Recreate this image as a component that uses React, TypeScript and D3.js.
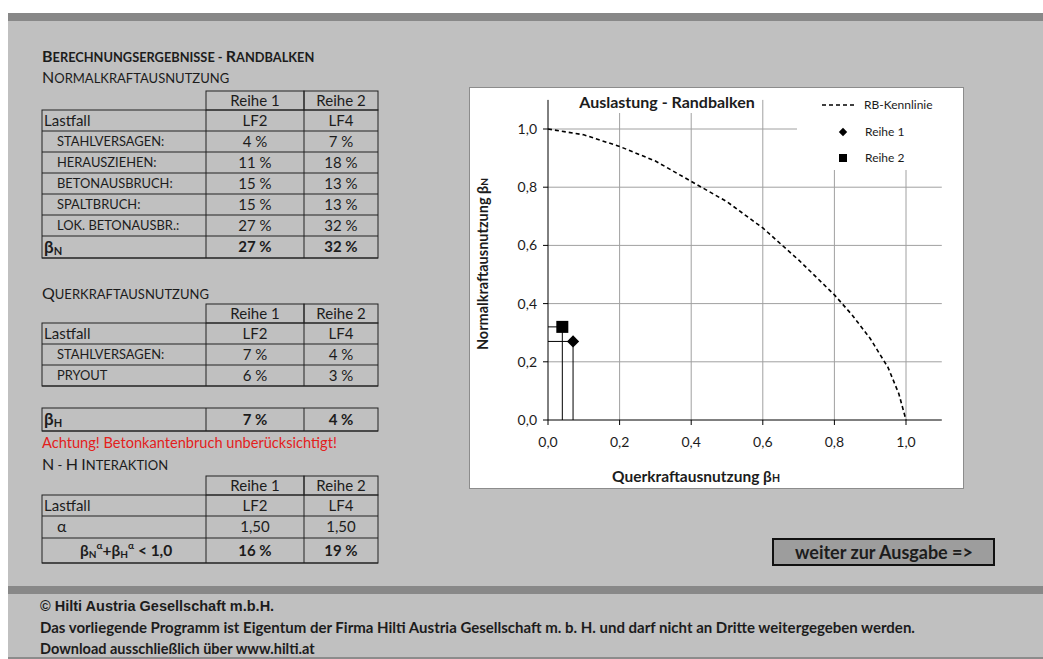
import React from 'react';
import * as d3 from 'd3';

// ---- data ----
const reihen = ['Reihe 1', 'Reihe 2'];
const lastfaelle = ['LF2', 'LF4'];

const nLabels = ['STAHLVERSAGEN:', 'HERAUSZIEHEN:', 'BETONAUSBRUCH:', 'SPALTBRUCH:', 'LOK. BETONAUSBR.:'];
const nReihe1 = [4, 11, 15, 15, 27];
const nReihe2 = [7, 18, 13, 13, 32];
const betaN = [27, 32];

const vLabels = ['STAHLVERSAGEN:', 'PRYOUT'];
const vReihe1 = [7, 6];
const vReihe2 = [4, 3];
const betaH = [7, 4];

const alpha = ['1,50', '1,50'];
const interaktion = [16, 19];

// chart
const kennlinieH = [0, 0.1, 0.2, 0.3, 0.4, 0.5, 0.6, 0.7, 0.8, 0.85, 0.9, 0.95, 0.98, 1.0];
const kennlinieN = [1.0, 0.98, 0.94, 0.89, 0.82, 0.75, 0.66, 0.55, 0.43, 0.36, 0.28, 0.18, 0.09, 0.0];
const punktH = [0.07, 0.04];
const punktN = [0.27, 0.32];
const ticks = [0, 0.2, 0.4, 0.6, 0.8, 1.0];

const FONT = 'Lato, "Open Sans", sans-serif';
const TXT = '#1c1c1c';
const FS = 15; // table text
const fmt = (v: number) => d3.format('.1f')(v).replace('.', ',');

// table geometry
const colX = [42, 206, 304, 378];

// small caps, built by hand so the small letters stay large like in Excel
function SmallCaps({ x, y, text, big, small, bold = false }: { x: number; y: number; text: string; big: number; small: number; bold?: boolean }) {
  const runs: { t: string; big: boolean }[] = [];
  for (const ch of text) {
    const isBig = ch !== ch.toLowerCase();
    const last = runs[runs.length - 1];
    if (last && last.big === isBig) last.t += ch;
    else runs.push({ t: ch, big: isBig });
  }
  return (
    <text x={x} y={y} fontWeight={bold ? 700 : 400} fill={TXT} style={{ whiteSpace: 'pre' }}>
      {runs.map((r, i) => (
        <tspan key={i} fontSize={r.big ? big : small}>{r.t.toUpperCase()}</tspan>
      ))}
    </text>
  );
}

function Cell({ x, y, w, h }: { x: number; y: number; w: number; h: number }) {
  return <rect x={x} y={y} width={w} height={h} fill="none" stroke="#222" strokeWidth={1} />;
}

function Beta({ x, y, sub }: { x: number; y: number; sub: string }) {
  return (
    <text x={x} y={y} fontSize={17} fontWeight={700} fill={TXT}>
      β<tspan fontSize={11} dy={2}>{sub}</tspan>
    </text>
  );
}

function Table({ top, rows, header = true }: { top: number; rows: { label: any; a: string; b: string; h: number; bold?: boolean; indent?: boolean }[]; header?: boolean }) {
  let y = top;
  const els: any[] = [];
  if (header) {
    els.push(<Cell key="h1" x={colX[1]} y={y} w={colX[2] - colX[1]} h={19} />);
    els.push(<Cell key="h2" x={colX[2]} y={y} w={colX[3] - colX[2]} h={19} />);
    els.push(<text key="t1" x={(colX[1] + colX[2]) / 2} y={y + 15} textAnchor="middle" fontSize={FS} fill={TXT}>{reihen[0]}</text>);
    els.push(<text key="t2" x={(colX[2] + colX[3]) / 2} y={y + 15} textAnchor="middle" fontSize={FS} fill={TXT}>{reihen[1]}</text>);
    y += 19;
  }
  const y0 = y;
  rows.forEach((r, i) => {
    const fw = r.bold ? 700 : 400;
    const by = y + r.h / 2 + 5;
    els.push(
      <g key={'r' + i}>
        <line x1={colX[0]} x2={colX[3]} y1={y + r.h} y2={y + r.h} stroke="#222" />
        {typeof r.label === 'string' ? (
          r.indent
            ? <text x={57} y={by - 0.5} fontSize={12.9} fill={TXT}>{r.label}</text>
            : <text x={44} y={by} fontSize={FS} fill={TXT}>{r.label}</text>
        ) : r.label(y)}
        <text x={(colX[1] + colX[2]) / 2} y={by} textAnchor="middle" fontSize={FS} fontWeight={fw} fill={TXT}>{r.a}</text>
        <text x={(colX[2] + colX[3]) / 2} y={by} textAnchor="middle" fontSize={FS} fontWeight={fw} fill={TXT}>{r.b}</text>
      </g>
    );
    y += r.h;
  });
  els.push(<rect key="box" x={colX[0]} y={y0} width={colX[3] - colX[0]} height={y - y0} fill="none" stroke="#222" />);
  els.push(<line key="c1" x1={colX[1]} x2={colX[1]} y1={y0} y2={y} stroke="#222" />);
  els.push(<line key="c2" x1={colX[2]} x2={colX[2]} y1={y0} y2={y} stroke="#222" />);
  return <g>{els}</g>;
}

function Chart() {
  const x = d3.scaleLinear().domain([0, 1.1]).range([548, 941.8]);
  const y = d3.scaleLinear().domain([0, 1.1]).range([420, 99.9]);
  const line = d3.line<number>().x((_, i) => x(kennlinieH[i])).y(d => y(d));
  const grid = '#a0a0a0';
  return (
    <g>
      <rect x={469.5} y={87.5} width={494} height={401} fill="#fff" stroke="#8c8c8c" />
      {ticks.slice(1).map(t => (
        <line key={'gh' + t} x1={x(0)} x2={x(1.1)} y1={y(t)} y2={y(t)} stroke={grid} />
      ))}
      {ticks.slice(1).map(t => (
        <line key={'gv' + t} x1={x(t)} x2={x(t)} y1={y(0)} y2={y(1.1)} stroke={grid} />
      ))}
      {/* title + legend boxes cover the grid */}
      <rect x={575} y={92} width={185} height={21} fill="#fff" />
      <rect x={797} y={92} width={150} height={78} fill="#fff" />
      <text x={667} y={108} textAnchor="middle" fontSize={16} fontWeight={700} fill={TXT}>Auslastung - Randbalken</text>

      {/* axes */}
      <line x1={x(0)} x2={x(0)} y1={y(0)} y2={y(1.1)} stroke="#000" />
      <line x1={x(0)} x2={x(1.1)} y1={y(0)} y2={y(0)} stroke="#000" />
      {ticks.map(t => (
        <g key={'ty' + t}>
          <line x1={x(0) - 5} x2={x(0)} y1={y(t)} y2={y(t)} stroke="#000" />
          <text x={537} y={y(t) + 5} textAnchor="end" fontSize={14} fill={TXT}>{fmt(t)}</text>
        </g>
      ))}
      {ticks.map(t => (
        <g key={'tx' + t}>
          <line x1={x(t)} x2={x(t)} y1={y(0)} y2={y(0) + 5} stroke="#000" />
          <text x={x(t)} y={447} textAnchor="middle" fontSize={14} fill={TXT}>{fmt(t)}</text>
        </g>
      ))}
      <text x={696} y={482} textAnchor="middle" fontSize={15.5} fontWeight={700} fill={TXT}>
        Querkraftausnutzung β<tspan fontSize={10.5}>H</tspan>
      </text>
      <text transform="translate(488,264) rotate(-90)" textAnchor="middle" fontSize={14.5} fontWeight={700} fill={TXT}>
        Normalkraftausnutzung β<tspan fontSize={10}>N</tspan>
      </text>

      {/* Kennlinie */}
      <path d={line(kennlinieN) || ''} fill="none" stroke="#000" strokeWidth={1.6} strokeDasharray="4,3" />

      {/* drop lines + markers */}
      {punktH.map((h, i) => (
        <g key={'p' + i}>
          <line x1={x(h)} x2={x(h)} y1={y(punktN[i])} y2={y(0)} stroke="#000" />
          <line x1={x(0)} x2={x(h)} y1={y(punktN[i])} y2={y(punktN[i])} stroke="#000" />
        </g>
      ))}
      <path d={d3.symbol().type(d3.symbolDiamond2).size(95)() || ''} transform={`translate(${x(punktH[0])},${y(punktN[0])})`} fill="#000" />
      <rect x={x(punktH[1]) - 6} y={y(punktN[1]) - 6} width={12} height={12} fill="#000" />

      {/* legend */}
      <line x1={822} x2={857} y1={105} y2={105} stroke="#000" strokeWidth={1.6} strokeDasharray="4,3" />
      <text x={864} y={109} fontSize={12} fill={TXT}>RB-Kennlinie</text>
      <path d={d3.symbol().type(d3.symbolDiamond2).size(45)() || ''} transform="translate(843,132)" fill="#000" />
      <text x={865} y={136} fontSize={12} fill={TXT}>{reihen[0]}</text>
      <rect x={839} y={154} width={8} height={8} fill="#000" />
      <text x={865} y={162} fontSize={12} fill={TXT}>{reihen[1]}</text>
    </g>
  );
}

export default function App() {
  const nRows = [
    { label: 'Lastfall', a: lastfaelle[0], b: lastfaelle[1], h: 21 },
    ...nLabels.map((l, i) => ({ label: l, a: `${nReihe1[i]} %`, b: `${nReihe2[i]} %`, h: 21, indent: true })),
    { label: (yy: number) => <Beta x={44} y={yy + 17} sub="N" />, a: `${betaN[0]} %`, b: `${betaN[1]} %`, h: 22, bold: true },
  ];
  const vRows = [
    { label: 'Lastfall', a: lastfaelle[0], b: lastfaelle[1], h: 21 },
    ...vLabels.map((l, i) => ({ label: l, a: `${vReihe1[i]} %`, b: `${vReihe2[i]} %`, h: 21, indent: true })),
  ];
  const hRows = [
    { label: (yy: number) => <Beta x={44} y={yy + 17} sub="H" />, a: `${betaH[0]} %`, b: `${betaH[1]} %`, h: 23, bold: true },
  ];
  const iRows = [
    { label: 'Lastfall', a: lastfaelle[0], b: lastfaelle[1], h: 21 },
    { label: (yy: number) => <text x={57} y={yy + 16} fontSize={16} fill={TXT}>α</text>, a: alpha[0], b: alpha[1], h: 22 },
    {
      label: (yy: number) => (
        <text x={80} y={yy + 18} fontSize={15.5} fontWeight={700} fill={TXT}>
          β<tspan fontSize={10} dy={2}>N</tspan><tspan fontSize={10} dy={-9}>α</tspan>
          <tspan dy={7}>+β</tspan><tspan fontSize={10} dy={2}>H</tspan><tspan fontSize={10} dy={-9}>α</tspan>
          <tspan dy={7}> &lt; 1,0</tspan>
        </text>
      ),
      a: `${interaktion[0]} %`, b: `${interaktion[1]} %`, h: 25, bold: true,
    },
  ];

  return (
    <svg width={1043} height={659} style={{ position: 'absolute', left: 0, top: 0 }} fontFamily={FONT}>
      <rect x={0} y={0} width={1043} height={659} fill="#fff" />
      <rect x={8} y={13} width={1035} height={646} fill="#c0c0c0" />
      <rect x={8} y={13} width={1035} height={8} fill="#888" />
      <rect x={8} y={586} width={1035} height={8} fill="#888" />
      <rect x={8} y={657} width={1035} height={2} fill="#8c8c8c" />

      <SmallCaps x={42} y={62} text="Berechnungsergebnisse - Randbalken" big={16} small={12.8} bold />
      <SmallCaps x={42} y={83} text="Normalkraftausnutzung" big={16} small={13} />
      <Table top={91} rows={nRows} />

      <SmallCaps x={42} y={299} text="Querkraftausnutzung" big={16} small={13} />
      <Table top={304} rows={vRows} />
      <Table top={408} rows={hRows} header={false} />
      <text x={42} y={448} fontSize={14.6} fill="#e3201c">Achtung! Betonkantenbruch unberücksichtigt!</text>
      <SmallCaps x={42} y={470} text="N - H Interaktion" big={16} small={13} />
      <Table top={476} rows={iRows} />

      <Chart />

      <rect x={773} y={539} width={221} height={26} fill="#9d9d9d" stroke="#111" strokeWidth={2} />
      <text x={884} y={558.5} textAnchor="middle" fontSize={18} fontWeight={700} fill={TXT}>weiter zur Ausgabe =&gt;</text>

      <text x={40} y={611} fontSize={14.5} fontWeight={700} fill={TXT} fontFamily="Liberation Sans, Arial, sans-serif">© Hilti Austria Gesellschaft m.b.H.</text>
      <text x={40} y={633} fontSize={15} fontWeight={700} fill={TXT}>
        Das vorliegende Programm ist Eigentum der Firma Hilti Austria Gesellschaft m. b. H. und darf nicht an Dritte weitergegeben werden.
      </text>
      <text x={40} y={654} fontSize={14.5} fontWeight={700} fill={TXT}>Download ausschließlich über www.hilti.at</text>
    </svg>
  );
}
